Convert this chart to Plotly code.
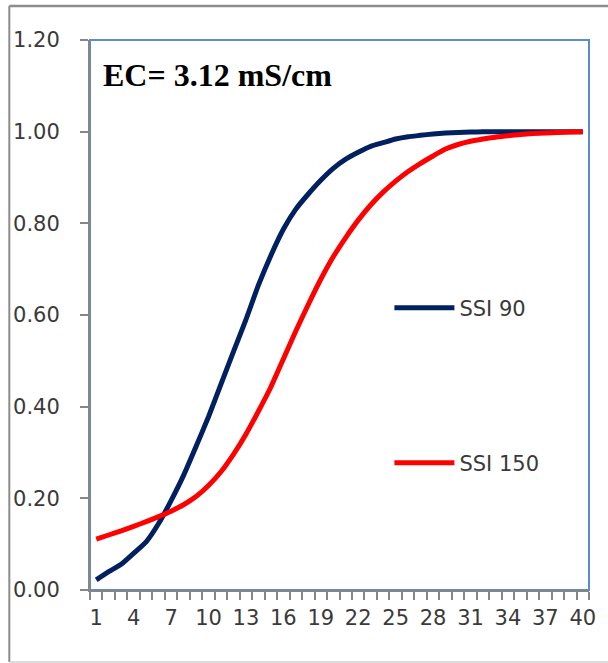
import plotly.graph_objects as go

categories = list(range(1, 41))
ssi_90 = [0.022, 0.040, 0.056, 0.080, 0.105, 0.145, 0.195, 0.250, 0.313, 0.378,
          0.449, 0.520, 0.590, 0.665, 0.730, 0.787, 0.831, 0.864, 0.894, 0.920,
          0.940, 0.955, 0.968, 0.976, 0.984, 0.989, 0.992, 0.995, 0.997, 0.998,
          0.999, 1.000, 1.000, 1.000, 1.000, 1.000, 1.000, 1.000, 1.000, 1.000]
ssi_150 = [0.111, 0.120, 0.129, 0.139, 0.149, 0.160, 0.172, 0.186, 0.204, 0.228,
           0.258, 0.296, 0.340, 0.390, 0.443, 0.504, 0.565, 0.623, 0.678, 0.727,
           0.769, 0.807, 0.840, 0.868, 0.892, 0.913, 0.931, 0.947, 0.962, 0.972,
           0.979, 0.984, 0.988, 0.991, 0.994, 0.996, 0.997, 0.998, 0.999, 1.000]
x_tick_labels = list(range(1, 41, 3))
y_ticks = [0, 0.2, 0.4, 0.6, 0.8, 1.0, 1.2]

AXIS = "#868686"
TXT = "#3a3a3a"
FONT = "DejaVu Sans"
FS = 21

fig = go.Figure()
fig.add_trace(go.Scatter(x=categories, y=ssi_90, mode="lines", name="SSI 90",
                         line=dict(color="#002060", width=5, shape="spline", smoothing=0.5),
                         legend="legend", showlegend=True))
fig.add_trace(go.Scatter(x=categories, y=ssi_150, mode="lines", name="SSI 150",
                         line=dict(color="#ff0000", width=5, shape="spline", smoothing=0.5),
                         legend="legend2", showlegend=True))

fig.update_layout(
    width=608, height=663,
    showlegend=True,
    margin=dict(l=90, r=17, t=40, b=73),
    paper_bgcolor="white", plot_bgcolor="white",
    font=dict(family=FONT, size=FS, color=TXT),
    legend=dict(x=0.6, y=0.5127, xanchor="left", yanchor="middle", visible=True,
                font=dict(family=FONT, size=FS, color=TXT), itemwidth=60,
                bgcolor="rgba(0,0,0,0)"),
    legend2=dict(x=0.6, y=0.2309, xanchor="left", yanchor="middle", visible=True,
                 font=dict(family=FONT, size=FS, color=TXT), itemwidth=60,
                 bgcolor="rgba(0,0,0,0)"),
    xaxis=dict(range=[0.5, 40.5], tickmode="array", tickvals=x_tick_labels,
               ticktext=[str(v) for v in x_tick_labels], ticks="",
               showline=True, linecolor=AXIS, linewidth=2, showgrid=False, zeroline=False,
               tickfont=dict(family=FONT, size=FS, color=TXT), ticklabelstandoff=8,
               minor=dict(tickmode="array", tickvals=[c - 0.5 for c in categories] + [40.5],
                          ticks="outside", ticklen=8, tickwidth=2, tickcolor=AXIS, showgrid=False)),
    yaxis=dict(range=[0, 1.2], tickmode="array", tickvals=y_ticks, tickformat=".2f",
               ticks="outside", ticklen=8, tickwidth=2, tickcolor=AXIS,
               showline=True, linecolor=AXIS, linewidth=2, showgrid=False, zeroline=False,
               tickfont=dict(family=FONT, size=FS, color=TXT), ticklabelstandoff=16),
    shapes=[
        dict(type="rect", xref="paper", yref="paper", x0=0, y0=0, x1=1, y1=1,
             line=dict(color="#5b8bd0", width=2), layer="below"),
        dict(type="line", xref="paper", yref="paper", x0=-0.1617, x1=1.05, y0=1.0618, y1=1.0618,
             line=dict(color="#8c8c8c", width=2.5)),
        dict(type="line", xref="paper", yref="paper", x0=-0.1617, x1=-0.1617, y0=1.0618, y1=-0.131,
             line=dict(color="#8c8c8c", width=2)),
        dict(type="line", xref="paper", yref="paper", x0=-0.1617, x1=1.05, y0=-0.131, y1=-0.131,
             line=dict(color="#d0d0d0", width=1.5)),
    ],
    annotations=[dict(text="<b>EC= 3.12 mS/cm</b>", xref="paper", yref="paper",
                      x=0.022, y=0.936, xanchor="left", yanchor="middle", showarrow=False,
                      font=dict(family="Liberation Serif", size=32, color="black"))],
)

fig.write_html("out.html")
